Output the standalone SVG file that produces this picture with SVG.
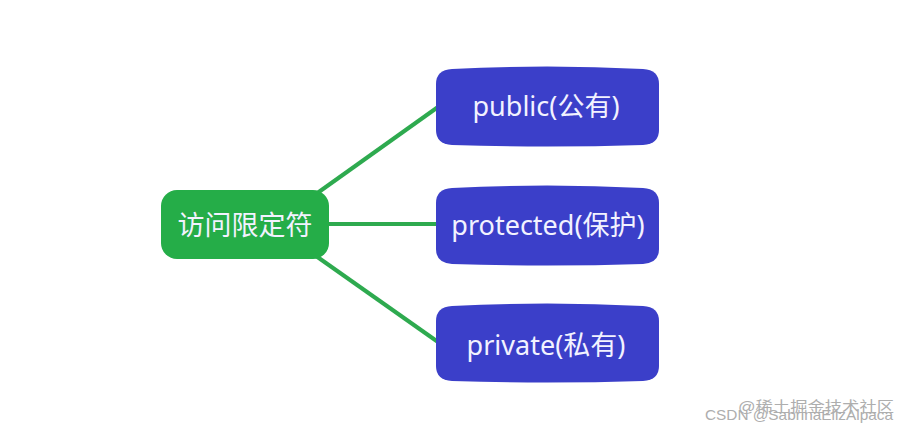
<svg xmlns="http://www.w3.org/2000/svg" width="912" height="433" viewBox="0 0 912 433">
<style>
.conn{stroke:#2eaa4f;stroke-width:4;fill:none}
.blue{fill:#3b3fc9}
.green{fill:#25ad48}
.t{font-family:"Noto Sans","Noto Sans CJK SC",sans-serif;font-size:27px;fill:#f2f2ff;text-anchor:middle;dominant-baseline:central}
.wm{font-family:"Liberation Sans","Noto Sans CJK SC",sans-serif;font-size:15px;fill:#a0a0a0}
</style>
<rect width="912" height="433" fill="#ffffff"/>
<g id="connectors">
<line class="conn" x1="316" y1="194" x2="438" y2="107"/>
<line class="conn" x1="328" y1="224" x2="438" y2="224"/>
<line class="conn" x1="316" y1="256" x2="438" y2="342"/>
</g>
<g id="root">
<rect class="green" x="161" y="190" width="168" height="69" rx="16"/>
<text class="t" x="245" y="224">访问限定符</text>
</g>
<g id="public">
<path class="blue" d="M436,84 Q436,70 452,69 Q547,64 643,69 Q659,70 659,84 L659,130 Q659,144 643,145 Q547,148 452,145 Q436,144 436,130 Z"/>
<text class="t" x="546" y="105">public(公有)</text>
</g>
<g id="protected">
<path class="blue" d="M436,203 Q436,189 452,188 Q547,183 643,188 Q659,189 659,203 L659,249 Q659,263 643,264 Q547,267 452,264 Q436,263 436,249 Z"/>
<text class="t" x="548" y="224">protected(保护)</text>
</g>
<g id="private">
<path class="blue" d="M436,321 Q436,307 452,306 Q547,301 643,306 Q659,307 659,321 L659,366 Q659,380 643,381 Q547,384 452,381 Q436,380 436,366 Z"/>
<text class="t" x="546" y="344">private(私有)</text>
</g>
<g id="watermark" opacity="0.85">
<text class="wm" x="705" y="420" textLength="188" lengthAdjust="spacingAndGlyphs">CSDN @SabrinaElizAlpaca</text>
<text class="wm" x="738" y="412" font-size="17" textLength="156" lengthAdjust="spacingAndGlyphs">@稀土掘金技术社区</text>
</g>
</svg>
